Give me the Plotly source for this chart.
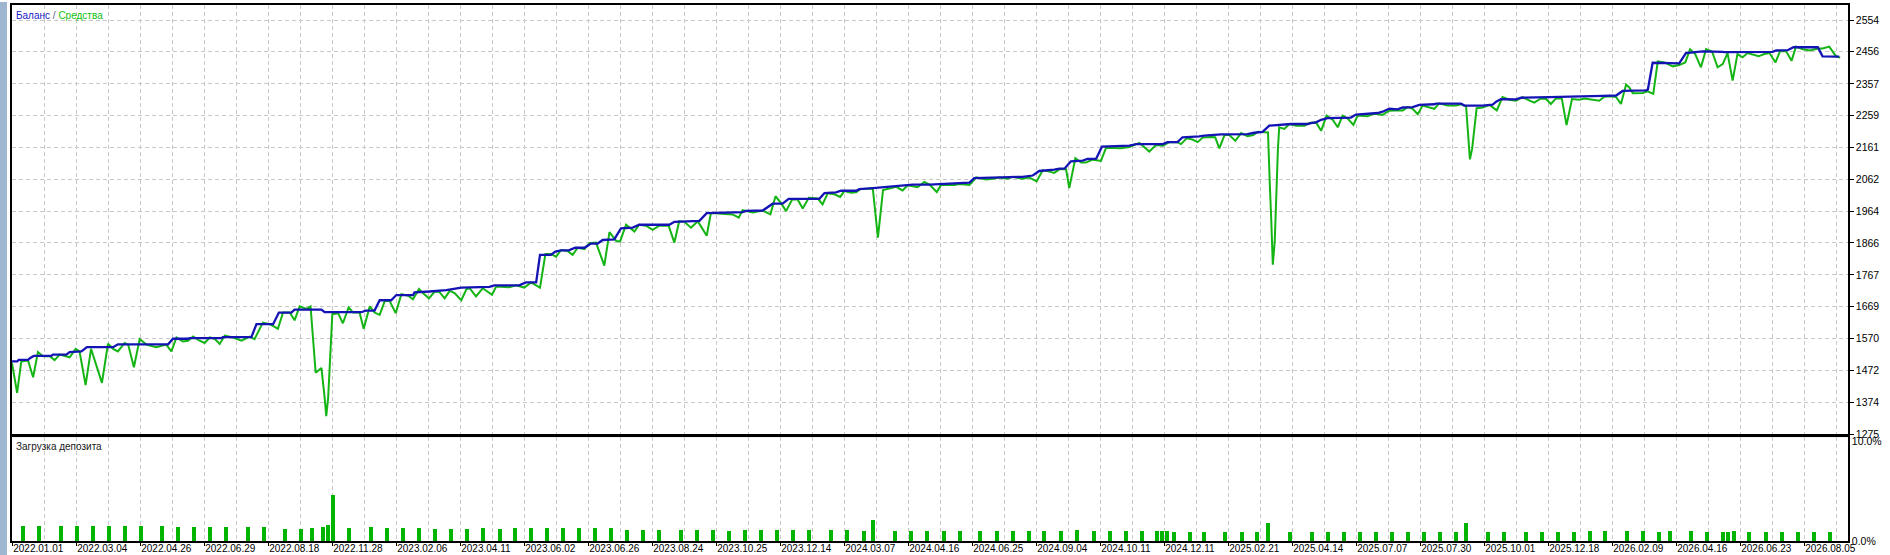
import plotly.graph_objects as go

# ---------------- data (x = deal sequence position, 10 units per grid cell) ----------------
x_tick_labels = ["2022.01.01", "2022.03.04", "2022.04.26", "2022.06.29", "2022.08.18", "2022.11.28",
                 "2023.02.06", "2023.04.11", "2023.06.02", "2023.06.26", "2023.08.24", "2023.10.25",
                 "2023.12.14", "2024.03.07", "2024.04.16", "2024.06.25", "2024.09.04", "2024.10.11",
                 "2024.12.11", "2025.02.21", "2025.04.14", "2025.07.07", "2025.07.30", "2025.10.01",
                 "2025.12.18", "2026.02.09", "2026.04.16", "2026.06.23", "2026.08.05"]
y_tick_labels = ["1275", "1374", "1472", "1570", "1669", "1767", "1866", "1964",
                 "2062", "2161", "2259", "2357", "2456", "2554"]

balance_x = [0, 1.6, 2.1, 5, 5.7, 6.8, 12.3, 12.8, 17, 18, 21.7, 23.4, 31.6, 33.1, 48.8, 50.3, 55, 55.5,
             65.4, 65.9, 74.8, 76.4, 81.6, 83.4, 87.3, 88.3, 96.7, 97.7, 109.2, 110.5, 113.3, 114.9,
             118.5, 120.1, 125.3, 125.8, 130.5, 135.7, 140.4, 149.2, 150.7, 158.5, 160.6, 163.8, 165,
             168.4, 169.8, 171.6, 174, 176, 178.9, 180.9, 183, 184.6, 188.2, 190.3, 194, 196, 205.4,
             207, 214.8, 217.1, 228.3, 229.4, 234.6, 237.7, 240.8, 242.7, 252.3, 253.9, 257.5, 259.1,
             263.8, 264.8, 269, 274.2, 278.3, 281.5, 286.7, 289.8, 297.6, 299.2, 300.7, 305.9, 310.6,
             315.8, 319, 321, 325.7, 327.3, 328.9, 330.9, 334.6, 336.1, 338.8, 340.6, 349.2, 351.3,
             359.6, 361.1, 364.2, 365.8, 371, 372.6, 377.8, 386.1, 388.2, 390.8, 392.9, 397.1, 399.7,
             404.9, 405.9, 407.5, 409.1, 411.1, 418.4, 420, 424.2, 426.8, 428.3, 430.4, 433, 434.6,
             437.7, 439.8, 444.5, 445, 452.8, 453.9, 459.6, 462.7, 463.8, 465.3, 470, 471.6, 480.4,
             496, 497.1, 501.3, 503.3, 510.6, 511.2, 512.7, 515.8, 521, 523.1, 526.8, 528.3, 534.6,
             535.1, 550.2, 551.3, 554.9, 556.7, 564.3, 565.8, 571]
balance_y = [1500, 1500, 1505, 1505, 1511, 1517, 1517, 1521, 1521, 1529, 1531, 1544, 1544, 1553, 1553, 1570,
             1570, 1572, 1572, 1575, 1575, 1615, 1615, 1651, 1651, 1660, 1660, 1652, 1652, 1657, 1657,
             1689, 1689, 1705, 1705, 1713, 1716, 1720, 1728, 1730, 1735, 1735, 1744, 1744, 1829, 1829,
             1839, 1843, 1843, 1851, 1851, 1864, 1864, 1875, 1877, 1911, 1913, 1922, 1922, 1931, 1934,
             1958, 1961, 1965, 1966, 1987, 1987, 2002, 2002, 2020, 2022, 2027, 2027, 2032, 2035, 2040,
             2044, 2046, 2046, 2047, 2050, 2052, 2066, 2068, 2069, 2070, 2074, 2088, 2092, 2095, 2095,
             2118, 2120, 2125, 2126, 2163, 2166, 2171, 2171, 2177, 2177, 2192, 2195, 2197, 2201, 2202,
             2206, 2209, 2228, 2230, 2233, 2233, 2236, 2238, 2246, 2251, 2253, 2262, 2264, 2267, 2271,
             2280, 2278, 2284, 2285, 2292, 2294, 2296, 2296, 2290, 2290, 2293, 2302, 2310, 2309, 2314,
             2316, 2318, 2320, 2321, 2335, 2337, 2339, 2422, 2421, 2420, 2452, 2454, 2457, 2456, 2455,
             2456, 2460, 2461, 2470, 2470, 2442, 2441]

equity_x = [0, 1.6, 2.9, 5, 6.6, 8.1, 9.7, 11.8, 13.3, 14.9, 18, 19.9, 21.1, 23, 24.7, 28.1, 30, 31.6, 33.1,
            35.2, 36.3, 38.1, 39.9, 42, 45.1, 48.2, 49.8, 51.4, 53.4, 55, 56.6, 58.6, 60.2, 61.8, 63.3,
            64.9, 66.5, 69.1, 71.7, 74.3, 75.8, 78.4, 80.5, 83.1, 84.7, 86.8, 88.3, 89.9, 92, 93.3, 94.9,
            96.7, 97.7, 98.2, 98.8, 99.5, 100.1, 101.9, 103.4, 105.2, 106.6, 108.6, 109.9, 111.8, 113.3,
            114.9, 116.5, 118, 119.9, 121.7, 123.8, 125.3, 127.2, 128.4, 130.3, 132.1, 133.6, 135.2,
            136.8, 138.3, 140.4, 142, 143,
            145, 147.1, 150, 151.3, 155.4, 157.5, 160.1, 162.2, 165, 166.7, 168.4, 170, 171.6, 173.6,
            175.2, 176.8, 178.9, 180.4, 182.5, 185.1, 186.7, 188.8, 190, 191.9, 194.5, 196, 198.1, 200.2,
            202.3, 205.2, 207, 208.5, 210.1, 212.2, 214.3, 217.1, 218.4, 223.1, 225.2, 227.1, 228.3,
            231.5, 234.6, 237, 238.6, 240.4, 241.9, 243.8, 245.5, 247.1, 249, 251.8, 253.3, 254.9, 257,
            258.8, 260.1, 262.2, 263.8, 265, 269, 270.6, 272.2, 274.2, 276.3, 278.3, 279.9, 283, 285.1,
            286.7,
            289, 290.3, 294.5, 296, 299.2, 301.3, 304.4, 306.5, 308.5, 311.1, 312.7, 315.8, 317.9, 320.2,
            322.1, 324.2, 325.7, 327.3, 329.4, 330.4, 332.3, 334.1, 335.6, 337.7, 340.3, 341.9, 344.5,
            346.5, 349.2, 352.3, 355.4, 357.5, 359.6, 361.7, 364.2, 365.3, 367.1, 368.9, 370.5, 372.1,
            374.7, 376, 377.3, 378.9, 380.4, 382.3, 384.1, 386.1, 387.9, 389.3, 392.5, 392.7, 393.1,
            393.5, 394, 394.6, 395, 395.6, 396, 397.6, 399.2, 401.3, 403.9, 405.4, 407.5, 409.1, 410.8,
            412.7, 414.3, 415.8, 417.4, 419.2, 420.5, 423.6, 425.2, 426.8, 428.3, 430.4,
            432, 434.6, 436.1, 437.7, 439.3, 440.8, 444.5, 446, 448.6, 451.3, 452.8, 454.4, 455.6, 456.3,
            457.7, 459.6, 461.7, 464, 465.8, 467.9, 470, 472.1, 473.6, 475.7, 477.8, 479.4, 480.9, 482.5,
            484.3, 485.8, 487.5, 489.8, 491.4, 493.4, 496, 497.6, 499.7, 501.3, 502.8, 504.4, 505.4,
            506.5, 509.6, 511.1, 512.9, 514.3, 516.4, 519, 521, 522.9, 524.4, 526, 527.8, 529.4, 531.3,
            533, 534.6, 536.1, 537.7, 539.2, 540.8, 542.4, 544, 545.8, 547.6, 549.2, 551.1, 552.5, 554.4,
            556.1, 557.5, 559.6, 561.9, 564.3, 565.8, 567.9, 570, 571.3]
equity_y = [1495, 1403, 1500, 1503, 1451, 1529, 1516, 1516, 1504, 1521, 1513, 1539, 1531, 1427, 1539, 1434,
            1555, 1539, 1531, 1557, 1552, 1482, 1569, 1552, 1544, 1552, 1531, 1574, 1562, 1564, 1577, 1564,
            1557, 1574, 1570, 1554, 1580, 1574, 1564, 1577, 1569, 1620, 1615, 1601, 1651, 1651, 1627, 1670,
            1662, 1670, 1465, 1480, 1388, 1331, 1388, 1521, 1646, 1649, 1618, 1667, 1651, 1652, 1601, 1670,
            1651, 1644, 1687, 1687, 1649, 1708, 1703, 1692, 1724, 1711, 1695, 1716, 1714, 1695, 1718, 1711,
            1689, 1723, 1726,
            1701, 1726, 1706, 1731, 1729, 1735, 1728, 1744, 1728, 1832, 1832, 1823, 1844, 1841, 1829, 1851,
            1847, 1865, 1867, 1796, 1899, 1872, 1870, 1922, 1901, 1922, 1919, 1906, 1919, 1919, 1867, 1933,
            1931, 1913, 1933, 1888, 1958, 1954, 1954, 1944, 1967, 1960, 1966, 1954, 2010, 1988, 1964, 2000,
            2000, 1972, 2005, 2003, 1985, 2019, 2016, 2008, 2026, 2021, 2022, 2032, 2034, 1882, 2029, 2034,
            2039, 2028, 2044, 2038, 2054, 2046,
            2023, 2045, 2045, 2048, 2045, 2068, 2062, 2064, 2068, 2064, 2070, 2064, 2068, 2056, 2090, 2086,
            2082, 2093, 2093, 2035, 2127, 2114, 2114, 2123, 2119, 2160, 2158, 2158, 2162, 2175, 2148, 2168,
            2166, 2177, 2177, 2171, 2189, 2185, 2177, 2191, 2193, 2192, 2158, 2199, 2199, 2181, 2205, 2195,
            2199, 2209, 2207, 2125, 2038, 1941, 1799, 1869, 2013, 2156, 2223, 2218, 2233, 2228, 2228, 2236,
            2238, 2212, 2259, 2246, 2223, 2259, 2250, 2230, 2259, 2257, 2264, 2264, 2261, 2274,
            2275, 2275, 2285, 2280, 2263, 2290, 2280, 2297, 2290, 2290, 2294, 2288, 2124, 2157, 2282, 2284,
            2292, 2275, 2316, 2308, 2305, 2316, 2308, 2299, 2312, 2310, 2295, 2312, 2312, 2230, 2310, 2308,
            2312, 2308, 2305, 2317, 2319, 2316, 2295, 2355, 2346, 2328, 2329, 2334, 2326, 2426, 2423, 2411,
            2415, 2423, 2464, 2449, 2408, 2464, 2456, 2408, 2418, 2452, 2367, 2449, 2439, 2452, 2448, 2442,
            2449, 2452, 2423, 2458, 2458, 2428, 2472, 2464, 2460, 2466, 2466, 2472, 2442, 2438]

load_x = [3.3, 8.3, 15.3, 20.2, 25.3, 30.3, 35.3, 40.2, 46.8, 51.8, 56.8, 61.8, 66.8, 73.7, 78.7, 85.2,
          90.2, 93.7, 97.1, 98.7, 100.2, 105.2, 112.2, 117.1, 122.1, 127.1, 132.1, 137.1, 142.1, 147.1,
          152.5, 157.1, 162.1, 167.2, 172.2, 177.2, 182.1, 187.1, 192.2, 197.2, 202.2, 209.1, 214.1,
          219.1, 224, 229, 234.1, 239.1, 244.1, 249.2, 256, 261, 266.1, 269.1, 276, 281, 286, 291.1,
          296.1, 302.6, 307.7, 312.7, 317.7, 322.6, 327.9, 332.9, 338, 343, 348, 353.1, 357.8, 359.3,
          361, 363, 368,
          372.6, 379.2, 384.3, 389.1, 392.6, 399.3, 406.1, 411.1, 416.1, 421.2, 426.1, 431.1, 436.2,
          441.1, 446.2, 451.2, 454.5, 461.2, 466.2, 473, 478, 483.1, 488, 493, 497.9, 504.7, 509.6,
          514.7, 518, 524.6, 529.7, 534.7, 536.3, 538, 542.9, 548.1, 553.1, 558, 563.1, 568.1]
load_pct = [1.5, 1.5, 1.5, 1.5, 1.5, 1.5, 1.5, 1.5, 1.5, 1.4, 1.4, 1.4, 1.4, 1.4, 1.4, 1.2,
            1.2, 1.3, 1.4, 1.6, 4.6, 1.3, 1.4, 1.3, 1.3, 1.3, 1.2, 1.2, 1.2, 1.3,
            1.17, 1.23, 1.23, 1.23, 1.23, 1.23, 1.23, 1.23, 1.1, 1.1, 1.1, 1.1, 1.1,
            1.1, 1.0, 1.1, 1.1, 1.1, 1.1, 1.1, 1.1, 1.1, 1.0, 2.1, 1.0, 1.0, 1.0, 1.0,
            1.0, 1.0, 1.0, 1.0, 1.0, 1.0, 1.0, 1.1, 1.0, 1.0, 1.0, 1.0, 1.0, 1.0,
            1.0, 0.9, 0.9,
            0.9, 0.9, 0.9, 0.9, 1.77, 0.9, 0.9, 0.9, 0.9, 0.9, 0.9, 0.9, 0.9,
            0.9, 0.9, 0.9, 1.77, 0.9, 0.9, 0.9, 0.9, 0.9, 0.9, 1.0, 1.0, 1.0, 1.0,
            0.9, 1.0, 1.0, 0.9, 0.9, 0.9, 1.0, 0.9, 0.9, 0.9, 0.9, 0.9, 0.9]

# ---------------- styling ----------------
W, H = 1890, 555
ML, MR, MT, MB = 12, 42, 3, 14
PH = H - MT - MB
BLUE = "#1414b4"
GREEN = "#14b414"
GRID = "#c8c8c8"
FONT = "Liberation Sans, Arial, sans-serif"
FS = 10

X_MAX = 573.75
major_x = [i * 20 for i in range(len(x_tick_labels))]
minor_x = [10 + i * 20 for i in range(29)]
y_vals = [float(v) for v in y_tick_labels]

main_dom = [(541 - 434) / PH, 1.0]
low_dom = [0.0, (541 - 437) / PH]

fig = go.Figure()
fig.add_trace(go.Scatter(x=equity_x, y=equity_y, mode="lines", name="Средства",
                         line=dict(color=GREEN, width=2), xaxis="x", yaxis="y"))
fig.add_trace(go.Scatter(x=balance_x, y=balance_y, mode="lines", name="Баланс",
                         line=dict(color=BLUE, width=2.3), xaxis="x", yaxis="y"))
fig.add_trace(go.Bar(x=load_x, y=load_pct, width=1.25, name="Загрузка депозита",
                     marker=dict(color="#00b400", line=dict(width=0)), xaxis="x2", yaxis="y2"))

common_x = dict(range=[0, X_MAX], showgrid=True, gridcolor=GRID, gridwidth=1, griddash="4px,3px",
                tickmode="array", tickvals=major_x, zeroline=False,
                showline=True, mirror=True, linecolor="#000000", linewidth=1.5,
                minor=dict(tickmode="array", tickvals=minor_x, showgrid=True, gridcolor=GRID,
                           griddash="4px,3px", gridwidth=1, ticks=""))

fig.update_layout(
    width=W, height=H,
    margin=dict(l=ML, r=MR, t=MT, b=MB),
    paper_bgcolor="white", plot_bgcolor="white",
    showlegend=False, bargap=0,
    font=dict(family=FONT, size=FS, color="#000000"),
    xaxis=dict(common_x, domain=[0, 1], anchor="y", showticklabels=False, ticks=""),
    xaxis2=dict(common_x, domain=[0, 1], anchor="y2", matches="x", ticktext=x_tick_labels,
                showticklabels=True, ticks="outside", ticklen=3, tickcolor="#000000",
                tickangle=0, ticklabelposition="outside right", ticklabelstandoff=-3,
                tickfont=dict(family=FONT, size=FS, color="#000000"), automargin=False),
    yaxis=dict(domain=main_dom, range=[1274.8, 2600.4], anchor="x", side="right",
               tickmode="array", tickvals=y_vals, ticktext=y_tick_labels,
               ticks="outside", ticklen=4, tickcolor="#000000",
               showgrid=True, gridcolor=GRID, gridwidth=1, griddash="4px,3px", zeroline=False,
               showline=True, mirror=True, linecolor="#000000", linewidth=1.5,
               tickfont=dict(family=FONT, size=FS + 0.5, color="#000000"), automargin=False),
    yaxis2=dict(domain=low_dom, range=[0, 10.4], anchor="x2", side="right",
                tickmode="array", tickvals=[0, 10], ticktext=["0.0%", "10.0%"], ticks="",
                showgrid=False, zeroline=False,
                showline=True, mirror=True, linecolor="#000000", linewidth=1.5,
                tickfont=dict(family=FONT, size=FS + 0.5, color="#000000"), automargin=False),
    annotations=[
        dict(xref="paper", yref="paper", x=0, y=1, xanchor="left", yanchor="top",
             xshift=2, yshift=-3, showarrow=False,
             text='<span style="color:#1a1ac8">Баланс</span><span style="color:#606080"> / </span>'
                  '<span style="color:#10c010">Средства</span>',
             font=dict(family=FONT, size=FS)),
        dict(xref="paper", yref="paper", x=0, y=low_dom[1], xanchor="left", yanchor="top",
             xshift=2, yshift=-2, showarrow=False, text="Загрузка депозита",
             font=dict(family=FONT, size=FS, color="#202020")),
    ],
    shapes=[
        dict(type="rect", xref="paper", yref="paper", x0=-ML / (W - ML - MR), x1=-(ML - 7) / (W - ML - MR),
             y0=-MB / PH, y1=1 + MT / PH, fillcolor="#9fb6d1", line=dict(width=0), layer="below"),
        dict(type="rect", xref="paper", yref="paper", x0=0, x1=1,
             y0=low_dom[1], y1=main_dom[0], fillcolor="#e4e4e4", line=dict(width=0), layer="below"),
    ],
)

fig.write_html("out.html", config={"displayModeBar": False},
               post_script="document.body.style.margin='0px';document.body.style.overflow='hidden';")
